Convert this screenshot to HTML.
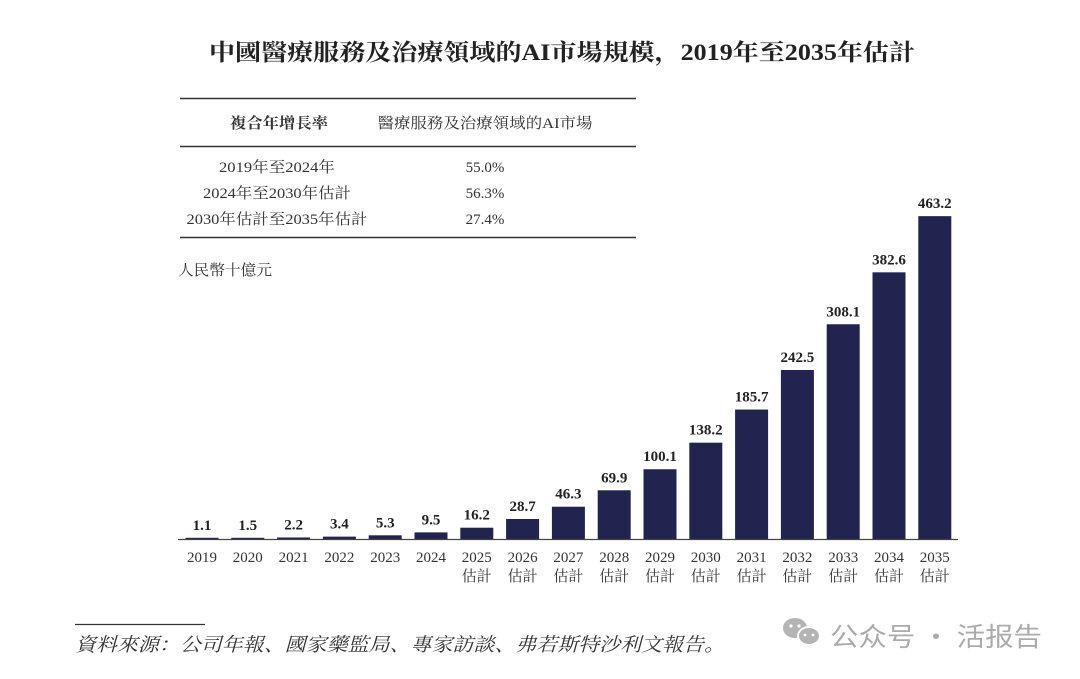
<!DOCTYPE html>
<html><head><meta charset="utf-8"><style>
html,body{margin:0;padding:0;background:#fff;}
svg{display:block}
text{font-family:"Liberation Serif","Noto Serif CJK SC","Noto Sans CJK TC",serif;fill:#222;}
.v{font-weight:bold;font-size:15px;text-anchor:middle}
.y{font-size:15px;text-anchor:middle;fill:#333}
.t{font-size:15px;text-anchor:middle;fill:#333}
.wm{font-family:"Noto Sans CJK SC",sans-serif;fill:#ababab}
</style></head><body>
<svg width="1080" height="679" xmlns="http://www.w3.org/2000/svg">
<text x="562" y="60" font-size="23" font-weight="bold" text-anchor="middle" textLength="706" lengthAdjust="spacingAndGlyphs">中國醫療服務及治療領域的AI市場規模，2019年至2035年估計</text>
<line x1="180" y1="98.5" x2="636" y2="98.5" stroke="#333" stroke-width="1.5"/>
<line x1="180" y1="146.5" x2="636" y2="146.5" stroke="#333" stroke-width="1.5"/>
<line x1="180" y1="237.5" x2="636" y2="237.5" stroke="#333" stroke-width="1.5"/>
<text class="t" x="279" y="128" font-weight="bold" textLength="98" lengthAdjust="spacingAndGlyphs">複合年增長率</text>
<text class="t" x="485" y="128" textLength="215" lengthAdjust="spacingAndGlyphs">醫療服務及治療領域的AI市場</text>
<text class="t" x="277" y="172" textLength="116" lengthAdjust="spacingAndGlyphs">2019年至2024年</text>
<text class="t" x="485" y="172">55.0%</text>
<text class="t" x="277" y="198" textLength="148" lengthAdjust="spacingAndGlyphs">2024年至2030年估計</text>
<text class="t" x="485" y="198">56.3%</text>
<text class="t" x="277" y="224" textLength="181" lengthAdjust="spacingAndGlyphs">2030年估計至2035年估計</text>
<text class="t" x="485" y="224">27.4%</text>
<text x="178" y="275" font-size="15" style="fill:#333" textLength="94" lengthAdjust="spacingAndGlyphs">人民幣十億元</text>
<g id="bars"></g>
<line x1="178" y1="539.5" x2="958" y2="539.5" stroke="#444" stroke-width="1.2"/>
<line x1="75" y1="624.5" x2="205" y2="624.5" stroke="#333" stroke-width="1.2"/>
<text x="75" y="651" font-size="19" font-style="italic" style="fill:#333" textLength="650" lengthAdjust="spacingAndGlyphs">資料來源：公司年報、國家藥監局、專家訪談、弗若斯特沙利文報告。</text>
<g fill="#b4b4b4">
<ellipse cx="795" cy="628" rx="12" ry="10"/>
<ellipse cx="809" cy="636" rx="11" ry="9" stroke="#fff" stroke-width="2"/>
</g>
<g fill="#fff"><circle cx="791" cy="626" r="1.6"/><circle cx="799" cy="626" r="1.6"/><circle cx="805" cy="635" r="1.4"/><circle cx="813" cy="635" r="1.4"/></g>
<text class="wm" x="830" y="646" font-size="26" textLength="212" lengthAdjust="spacingAndGlyphs">公众号 · 活报告</text>
</svg>
<script>
(function(){
var vals=[1.1,1.5,2.2,3.4,5.3,9.5,16.2,28.7,46.3,69.9,100.1,138.2,185.7,242.5,308.1,382.6,463.2];
var g=document.getElementById('bars'),s="";
for(var i=0;i<17;i++){var cx=202+i*45.8,v=vals[i],h=Math.max(v*0.697,1.2),by=539-h;
s+='<rect x="'+(cx-16.5)+'" y="'+by+'" width="33" height="'+h+'" fill="#23234f"/>';
s+='<text class="v" x="'+cx+'" y="'+(by-8)+'">'+v.toFixed(1)+'</text>';
s+='<text class="y" x="'+cx+'" y="562">'+(2019+i)+'</text>';
if(i>=6)s+='<text class="y" x="'+cx+'" y="581">估計</text>';}
g.innerHTML=s;
})();
</script>
</body></html>
